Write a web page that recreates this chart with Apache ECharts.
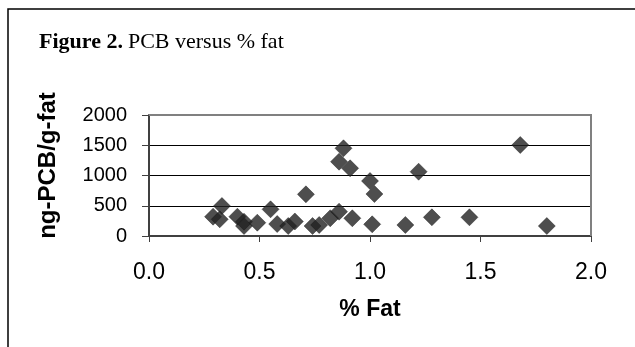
<!DOCTYPE html>
<html>
<head>
<meta charset="utf-8">
<script src="https://cdn.jsdelivr.net/npm/echarts@6/dist/echarts.min.js"></script>
<style>
html,body{margin:0;padding:0;background:#fff;}
#c{width:635px;height:347px;}
</style>
</head>
<body>
<div id="c"></div>
<script>
// % fat values
var fatPct = [0.29, 0.33, 0.32, 0.40, 0.43, 0.43, 0.49, 0.55, 0.58, 0.63, 0.66, 0.71, 0.74, 0.77, 0.82, 0.86, 0.86, 0.88, 0.91, 0.92, 1.00, 1.02, 1.01, 1.16, 1.22, 1.28, 1.45, 1.68, 1.80];
// ng-PCB/g-fat values
var pcb    = [319, 496, 276, 319, 165, 236, 220, 441, 198, 165, 240, 689, 165, 182, 293, 402, 1228, 1450, 1119, 293, 909, 694, 193, 182, 1063, 309, 309, 1504, 165];
var xTicks = [0.0, 0.5, 1.0, 1.5, 2.0];
var yTicks = [0, 500, 1000, 1500, 2000];

var points = fatPct.map(function (v, i) { return [v, pcb[i]]; });

var chart = echarts.init(document.getElementById('c'), null, {renderer: 'canvas'});
chart.setOption({
  backgroundColor: '#ffffff',
  animation: false,
  title: {
    left: 34, top: 26,
    text: '{b|Figure 2.} {n|PCB versus % fat}',
    textStyle: {
      rich: {
        b: {fontFamily: 'Liberation Serif', fontWeight: 'bold', fontSize: 22, color: '#000'},
        n: {fontFamily: 'Liberation Serif', fontWeight: 'normal', fontSize: 22, color: '#000'}
      }
    }
  },
  graphic: [{
    type: 'rect', silent: true,
    shape: {x: 8, y: 9, width: 700, height: 400},
    style: {fill: 'none', stroke: '#000', lineWidth: 1.5}
  }, {
    type: 'polyline', silent: true, z: 5,
    shape: {points: [[149, 115], [591, 115], [591, 236]]},
    style: {fill: 'none', stroke: '#808080', lineWidth: 2}
  }],
  grid: {left: 149, top: 115, width: 442, height: 121, containLabel: false},
  xAxis: {
    type: 'value', min: xTicks[0], max: xTicks[xTicks.length - 1], interval: 0.5,
    name: '% Fat', nameLocation: 'middle', nameGap: 74,
    nameTextStyle: {fontFamily: 'Liberation Sans', fontWeight: 'bold', fontSize: 23, color: '#000', verticalAlign: 'middle'},
    axisLine: {show: true, onZero: false, lineStyle: {color: '#404040', width: 2}},
    axisTick: {show: true, inside: false, length: 6, lineStyle: {color: '#404040', width: 1}},
    axisLabel: {fontFamily: 'Liberation Sans', fontSize: 23, color: '#000', margin: 25,
      formatter: function (v) { return v.toFixed(1); }},
    splitLine: {show: false}
  },
  yAxis: {
    type: 'value', min: yTicks[0], max: yTicks[yTicks.length - 1], interval: 500,
    name: 'ng-PCB/g-fat', nameLocation: 'middle', nameGap: 89, nameRotate: 90,
    nameTextStyle: {fontFamily: 'Liberation Sans', fontWeight: 'bold', fontSize: 24, color: '#000', padding: [0, 0, 0, 20]},
    axisLine: {show: true, lineStyle: {color: '#404040', width: 2}},
    axisTick: {show: true, inside: false, length: 7, lineStyle: {color: '#404040', width: 1}},
    axisLabel: {fontFamily: 'Liberation Sans', fontSize: 20, color: '#000', margin: 22,
      formatter: function (v) { return String(v); }},
    splitLine: {show: true, lineStyle: {color: '#000', width: 1}}
  },
  series: [{
    type: 'scatter',
    data: points,
    symbol: 'diamond',
    symbolSize: [17, 17],
    itemStyle: {color: '#222222', borderColor: '#111111', borderWidth: 0.5}
  }]
});
</script>
</body>
</html>
